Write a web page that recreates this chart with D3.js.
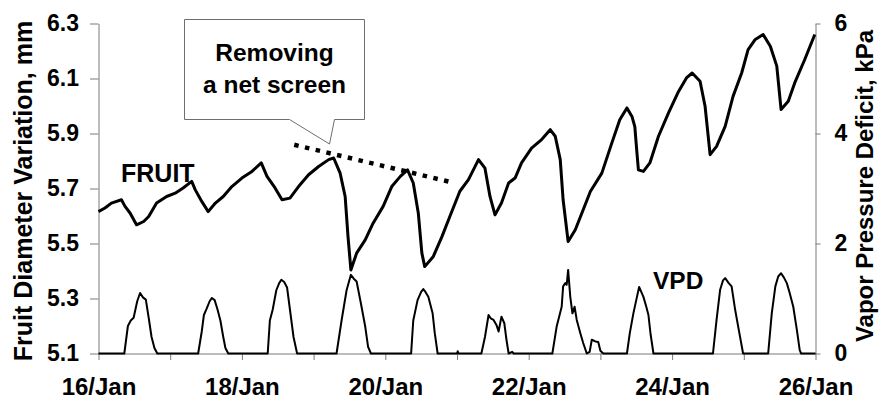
<!DOCTYPE html>
<html>
<head>
<meta charset="utf-8">
<script src="https://cdn.jsdelivr.net/npm/d3@7"></script>
<style>
  html, body { margin: 0; padding: 0; background: #fff; }
  svg { display: block; }
  text { font-family: "Liberation Sans", Arial, sans-serif; font-weight: bold; fill: #000; }
</style>
</head>
<body>
<svg id="chart" width="880" height="403"></svg>
<script>
// ---------- DATA ----------
// Day of January (fractional) and fruit diameter variation (mm)
const fruitDay = [16.00,16.09,16.18,16.32,16.37,16.44,16.53,16.63,16.70,16.81,
  16.95,17.07,17.18,17.30,17.35,17.44,17.53,17.63,17.74,17.86,
  18.00,18.14,18.27,18.35,18.46,18.56,18.67,18.79,18.93,19.07,
  19.21,19.28,19.37,19.44,19.48,19.52,19.60,19.72,19.83,19.97,
  20.09,20.21,20.31,20.39,20.46,20.51,20.55,20.67,20.79,20.90,
  21.04,21.16,21.30,21.39,21.46,21.53,21.62,21.72,21.81,21.90,
  22.04,22.18,22.30,22.37,22.44,22.48,22.55,22.65,22.76,22.86,
  23.02,23.16,23.27,23.37,23.44,23.48,23.51,23.53,23.60,23.69,
  23.81,23.95,24.09,24.20,24.28,24.39,24.46,24.53,24.62,24.74,
  24.85,24.97,25.06,25.16,25.27,25.37,25.46,25.52,25.62,25.71,
  25.85,25.99];
const fruitVal = [5.616,5.629,5.647,5.659,5.635,5.611,5.568,5.580,5.598,5.647,
  5.671,5.683,5.702,5.726,5.695,5.653,5.616,5.647,5.671,5.707,
  5.738,5.762,5.793,5.744,5.703,5.659,5.665,5.707,5.750,5.780,
  5.805,5.811,5.756,5.671,5.525,5.404,5.465,5.513,5.574,5.635,
  5.707,5.744,5.768,5.720,5.611,5.465,5.416,5.453,5.525,5.598,
  5.690,5.732,5.805,5.774,5.671,5.604,5.647,5.720,5.738,5.793,
  5.847,5.878,5.914,5.890,5.805,5.659,5.507,5.550,5.623,5.689,
  5.756,5.866,5.950,5.993,5.962,5.925,5.829,5.768,5.762,5.793,
  5.890,5.975,6.053,6.102,6.120,6.090,5.999,5.823,5.853,5.926,
  6.035,6.120,6.205,6.242,6.260,6.217,6.145,5.987,6.017,6.084,
  6.169,6.260];

// Day of January and vapor pressure deficit (kPa)
const vpdDay = [16.00,
  16.36,16.41,16.45,16.49,16.54,16.58,16.62,16.66,16.70,16.74,16.78,16.82,
  17.39,17.44,17.47,17.51,17.55,17.58,17.62,17.66,17.70,17.74,17.77,17.81,
  18.36,18.39,18.43,18.48,18.52,18.55,18.59,18.63,18.67,18.72,18.77,
  19.32,19.39,19.46,19.52,19.56,19.60,19.66,19.72,19.76,19.80,
  20.36,20.39,20.45,20.50,20.53,20.56,20.60,20.66,20.69,20.73,
  21.00,21.01,21.02,
  21.34,21.39,21.44,21.47,21.51,21.55,21.58,21.62,21.66,21.69,21.72,21.77,21.79,
  22.33,22.39,22.46,22.48,22.51,22.53,22.55,22.58,22.61,22.64,22.67,22.72,22.76,22.81,22.85,22.88,22.93,22.97,23.00,23.04,
  23.37,23.41,23.46,23.50,23.54,23.57,23.60,23.64,23.67,23.70,23.74,
  24.57,24.62,24.67,24.71,24.74,24.79,24.83,24.88,24.93,24.99,
  25.34,25.39,25.44,25.48,25.52,25.56,25.60,25.64,25.69,25.74,25.78,25.80,
  26.00];
const vpdVal = [0,
  0,0.5,0.6,0.65,0.95,1.10,1.02,0.98,0.65,0.3,0.1,0,
  0,0.4,0.7,0.82,0.95,1.01,0.97,0.8,0.6,0.3,0.1,0,
  0,0.6,0.8,1.15,1.28,1.34,1.30,1.2,0.8,0.3,0,
  0,0.6,1.15,1.43,1.36,1.31,0.91,0.49,0.12,0,
  0,0.6,0.97,1.12,1.17,1.12,1.03,0.73,0.37,0,
  0,0.04,0,
  0,0.3,0.7,0.64,0.61,0.52,0.40,0.67,0.55,0.25,0,0.03,0,
  0,0.49,0.85,1.22,1.28,1.25,1.52,1.03,0.73,0.85,0.61,0.37,0.19,0,0.03,0.25,0.22,0.21,0.05,0,
  0,0.37,0.73,0.97,1.21,1.12,1.03,0.85,0.70,0.35,0,
  0,0.61,1.16,1.33,1.37,1.28,1.22,0.79,0.43,0,
  0,0.73,1.22,1.40,1.46,1.38,1.28,1.10,0.85,0.43,0.06,0,
  0];

// Trend line (dotted) after removing the net screen: [day, mm]
const trendDay = [18.73, 20.92];
const trendVal = [5.859, 5.723];

// Axis ticks and labels
const xTickDays = [16,17,18,19,20,21,22,23,24,25,26];
const xTickLabels = {16:"16/Jan",18:"18/Jan",20:"20/Jan",22:"22/Jan",24:"24/Jan",26:"26/Jan"};
const leftTicks = [5.1,5.3,5.5,5.7,5.9,6.1,6.3];
const rightTicks = [0,2,4,6];

const leftTitle = "Fruit Diameter Variation, mm";
const rightTitle = "Vapor Pressure Deficit, kPa";
const calloutLines = ["Removing", "a net screen"];
const fruitLabel = "FRUIT";
const vpdLabel = "VPD";

// ---------- CHART ----------
const svg = d3.select("#chart");
svg.append("rect").attr("width", 880).attr("height", 403).attr("fill", "#fff");

const x = d3.scaleLinear().domain([16, 26]).range([98.5, 815.5]);
const yL = d3.scaleLinear().domain([5.1, 6.3]).range([353.5, 23.5]);
const yR = d3.scaleLinear().domain([0, 6]).range([353.5, 23.5]);

const axisColor = "#7a7a7a";

function styleAxis(g) {
  g.select(".domain").attr("stroke", axisColor).attr("stroke-width", 1);
  g.selectAll(".tick line").attr("stroke", axisColor).attr("stroke-width", 1);
  g.selectAll(".tick text").attr("font-family", "Liberation Sans, Arial, sans-serif")
    .attr("font-weight", "bold").attr("fill", "#000");
}

// Left axis
const gL = svg.append("g").attr("transform", "translate(98.5,0)")
  .call(d3.axisLeft(yL).tickValues(leftTicks).tickFormat(d3.format(".1f"))
    .tickSize(8.5).tickSizeOuter(0).tickPadding(11));
styleAxis(gL);
gL.selectAll(".tick text").attr("font-size", 23);

// Right axis
const gR = svg.append("g").attr("transform", "translate(815.5,0)")
  .call(d3.axisRight(yR).tickValues(rightTicks).tickFormat(d3.format("d"))
    .tickSize(5).tickSizeOuter(0).tickPadding(14));
styleAxis(gR);
gR.selectAll(".tick text").attr("font-size", 23);

// Bottom axis
const gB = svg.append("g").attr("transform", "translate(0,353.5)")
  .call(d3.axisBottom(x).tickValues(xTickDays).tickFormat(d => xTickLabels[d] || "")
    .tickSize(6.5).tickSizeOuter(0));
styleAxis(gB);
gB.selectAll(".tick text").attr("font-size", 24).attr("y", 41.5).attr("dy", 0);

// VPD line
const vpdData = d3.zip(vpdDay, vpdVal);
svg.append("path").datum(vpdData)
  .attr("fill", "none").attr("stroke", "#000").attr("stroke-width", 2)
  .attr("stroke-linejoin", "round")
  .attr("d", d3.line().x(d => x(d[0])).y(d => yR(d[1])));

// Fruit line
const fruitData = d3.zip(fruitDay, fruitVal);
svg.append("path").datum(fruitData)
  .attr("fill", "none").attr("stroke", "#000").attr("stroke-width", 3)
  .attr("stroke-linejoin", "round")
  .attr("d", d3.line().x(d => x(d[0])).y(d => yL(d[1])));

// Dotted trend line
const trendData = d3.zip(trendDay, trendVal);
svg.append("path").datum(trendData)
  .attr("fill", "none").attr("stroke", "#000").attr("stroke-width", 4.5)
  .attr("stroke-dasharray", "4.5,6.5")
  .attr("d", d3.line().x(d => x(d[0])).y(d => yL(d[1])));

// Callout
const cx0 = 184.5, cx1 = 364.5, cy0 = 19.5, cy1 = 119.5;
svg.append("path")
  .attr("d", `M${cx0},${cy0} H${cx1} V${cy1} H334.5 L329.5,144 L289.5,${cy1} H${cx0} Z`)
  .attr("fill", "#fff").attr("stroke", "#6e6e6e").attr("stroke-width", 1);
svg.append("text").attr("x", 274.5).attr("y", 61).attr("text-anchor", "middle")
  .attr("font-size", 24.5).text(calloutLines[0]);
svg.append("text").attr("x", 274.5).attr("y", 93).attr("text-anchor", "middle")
  .attr("font-size", 24.5).text(calloutLines[1]);

// Series labels
svg.append("text").attr("x", 121).attr("y", 182).attr("font-size", 25).text(fruitLabel);
svg.append("text").attr("x", 653).attr("y", 288.5).attr("font-size", 24.5).text(vpdLabel);

// Axis titles
svg.append("text").attr("transform", "translate(32,191) rotate(-90)")
  .attr("text-anchor", "middle").attr("font-size", 25).text(leftTitle);
svg.append("text").attr("transform", "translate(873,186) rotate(-90)")
  .attr("text-anchor", "middle").attr("font-size", 24).text(rightTitle);
</script>
</body>
</html>
